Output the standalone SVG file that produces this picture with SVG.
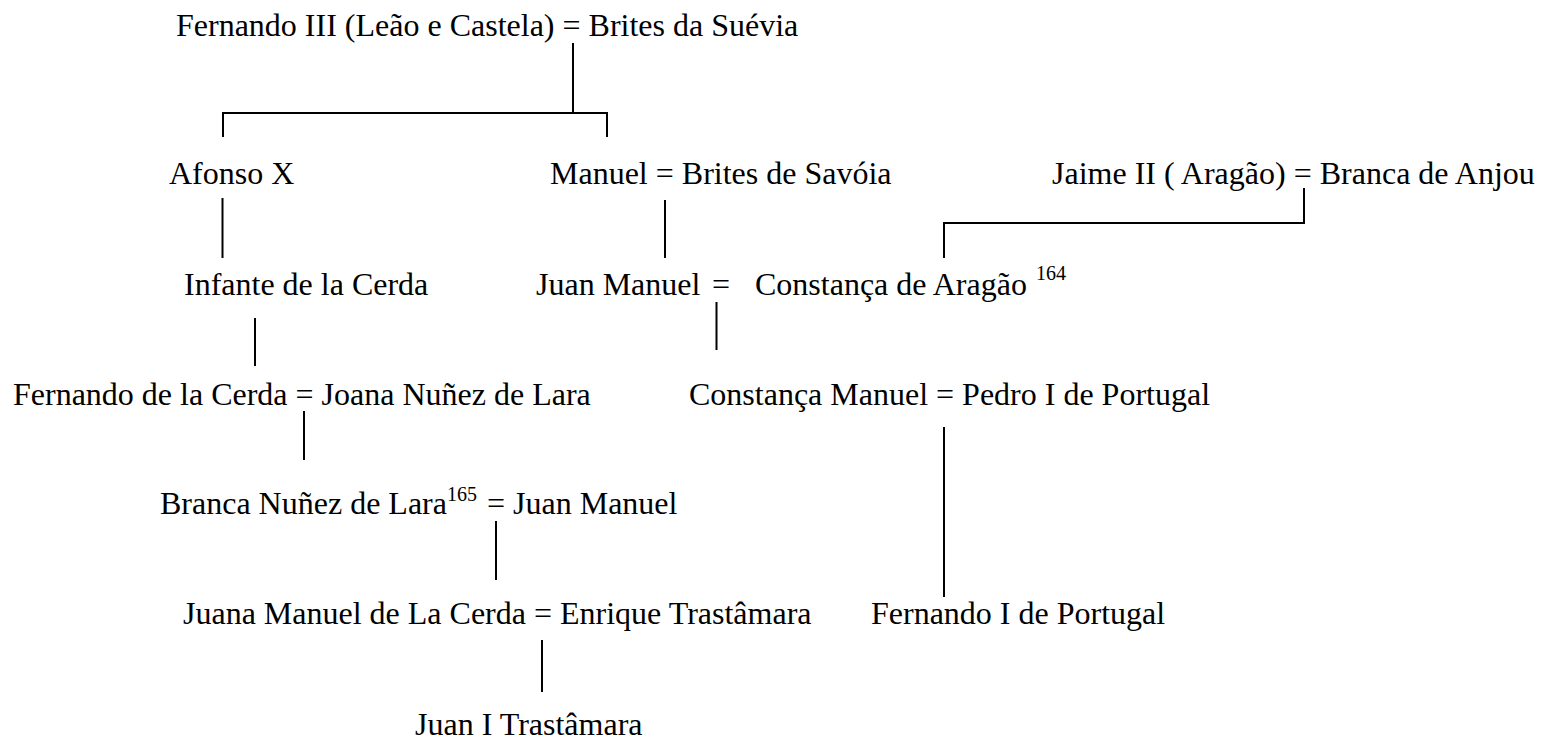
<svg xmlns="http://www.w3.org/2000/svg" width="1542" height="739" viewBox="0 0 1542 739">
<style>
text{font-family:"Liberation Serif","Times New Roman",serif;font-size:32px;fill:#000}
.sup{font-size:20px}
.c{fill:none;stroke:#000;stroke-width:2}
</style>
<rect width="1542" height="739" fill="#fff"/>
<g id="connectors">
<path class="c" d="M573,43V113"/>
<path class="c" d="M223,137V113H607V137"/>
<path class="c" d="M222.5,198V258"/>
<path class="c" d="M665,200V258"/>
<path class="c" d="M1304,188V223H944V258"/>
<path class="c" d="M255,318V366"/>
<path class="c" d="M716.5,302V350"/>
<path class="c" d="M304,411V460"/>
<path class="c" d="M944,427V597"/>
<path class="c" d="M496,521V580"/>
<path class="c" d="M542,640V692"/>
</g>
<g id="n-fernando3"><text x="176" y="36">Fernando III (Leão e Castela) = Brites da Suévia</text></g>
<g id="n-afonso"><text x="169" y="184">Afonso X</text></g>
<g id="n-manuel"><text x="550" y="184">Manuel = Brites de Savóia</text></g>
<g id="n-jaime"><text x="1052" y="184">Jaime II ( Aragão) = Branca de Anjou</text></g>
<g id="n-infante"><text x="184" y="295">Infante de la Cerda</text></g>
<g id="n-juanmanuel"><text y="295"><tspan x="536">Juan Manuel </tspan><tspan x="712">= </tspan><tspan x="755">Constança de Aragão </tspan><tspan class="sup" x="1036" y="280">164</tspan></text></g>
<g id="n-fernandocerda"><text x="13" y="405">Fernando de la Cerda = Joana Nuñez de Lara</text></g>
<g id="n-constanca"><text x="689" y="405">Constança Manuel = Pedro I de Portugal</text></g>
<g id="n-branca"><text y="514"><tspan x="160">Branca Nuñez de Lara</tspan><tspan class="sup" x="447" y="501">165</tspan><tspan x="479" y="514"> = Juan Manuel</tspan></text></g>
<g id="n-juana"><text x="183" y="624">Juana Manuel de La Cerda = Enrique Trastâmara</text></g>
<g id="n-fernando1"><text x="871" y="624">Fernando I de Portugal</text></g>
<g id="n-juan1"><text x="415" y="735">Juan I Trastâmara</text></g>
</svg>
